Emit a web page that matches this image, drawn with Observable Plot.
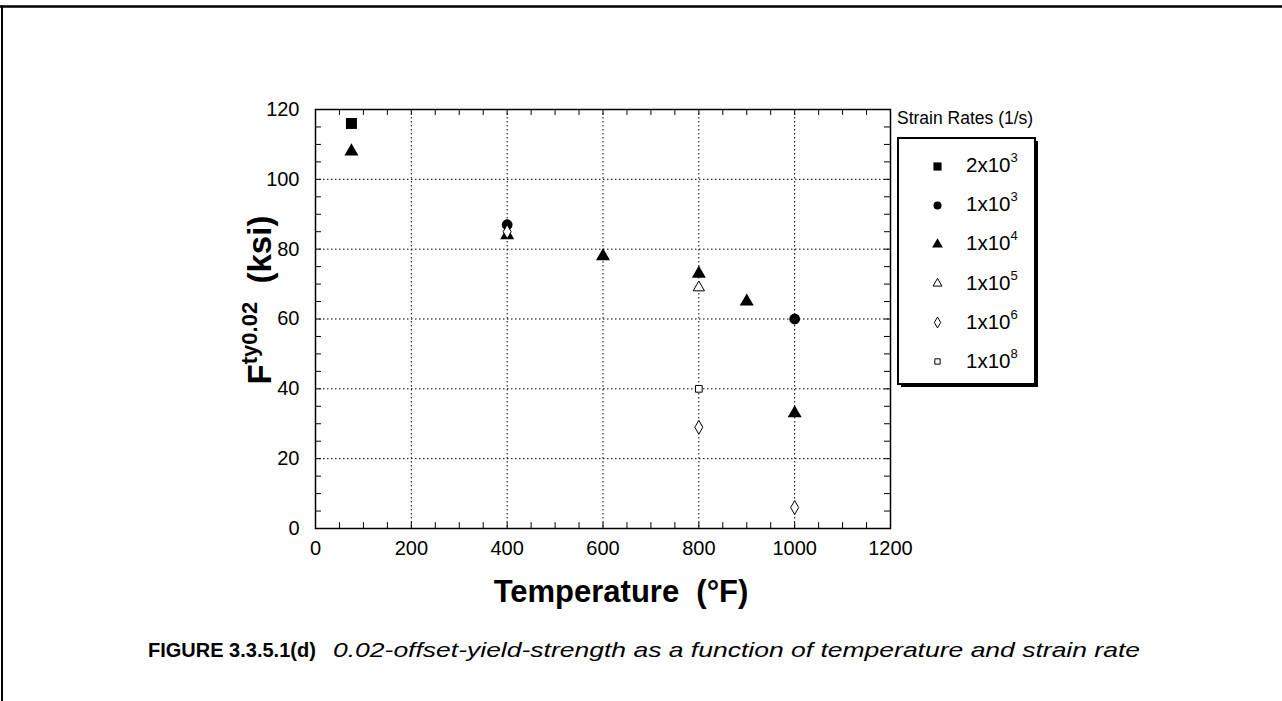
<!DOCTYPE html>
<html><head><meta charset="utf-8">
<script src="https://cdn.jsdelivr.net/npm/d3@7"></script>
<script src="https://cdn.jsdelivr.net/npm/@observablehq/plot@0.6"></script>
<style>
body{margin:0;background:#fff;}
#wrap{position:relative;width:1282px;height:701px;overflow:hidden;background:#fff;}
#wrap > *{position:absolute;}
</style></head><body><div id="wrap"></div>
<script>
const FONT = '"Liberation Sans", Arial, Helvetica, sans-serif';

// ---- data ----
const seriesNames = ["2x10^3", "1x10^3", "1x10^4", "1x10^5", "1x10^6", "1x10^8"];
const seriesBase  = ["2x10", "1x10", "1x10", "1x10", "1x10", "1x10"];
const seriesExp   = ["3", "3", "4", "5", "6", "8"];

const temp_2e3 = [75];                 const fty_2e3 = [116];
const temp_1e3 = [400, 1000];          const fty_1e3 = [87, 60];
const temp_1e4 = [75, 400, 600, 800, 900, 1000]; const fty_1e4 = [108, 84, 78, 73, 65, 33];
const temp_1e5 = [800];                const fty_1e5 = [69];
const temp_1e6 = [400, 800, 1000];     const fty_1e6 = [85, 29, 6];
const temp_1e8 = [800];                const fty_1e8 = [40];

const xTicks = [0, 200, 400, 600, 800, 1000, 1200];
const yTicks = [0, 20, 40, 60, 80, 100, 120];
const xMinor = d3.range(50, 1200, 50);
const yMinor = d3.range(5, 120, 5);

// ---- styles per series ----
const symbols = ["square", "circle", "triangle", "triangle", "diamond", "square"];
const fills   = ["black", "black", "black", "white", "white", "white"];
const strokes = ["none", "none", "none", "black", "black", "black"];
const radii   = [6.2, 5.4, 5.2, 4.2, 4.2, 3.8];
const legendR = [4.6, 4.0, 4.0, 3.3, 3.3, 3.0];

const seriesData = [
  [temp_2e3, fty_2e3], [temp_1e3, fty_1e3], [temp_1e4, fty_1e4],
  [temp_1e5, fty_1e5], [temp_1e6, fty_1e6], [temp_1e8, fty_1e8]
].map(([t, f], i) => t.map((x, j) => ({series: seriesNames[i], temp: x, fty: f[j]})));

const dotMarks = seriesData.map((rows, i) => Plot.dot(rows, {
  x: "temp", y: "fty", symbol: symbols[i], fill: fills[i], stroke: strokes[i],
  strokeWidth: 1, r: radii[i]
}));

const grid = {stroke: "black", strokeOpacity: 1, strokeWidth: 1, strokeDasharray: "1.5,2.5"};

const chart = Plot.plot({
  width: 1282, height: 701,
  marginLeft: 315, marginRight: 392, marginTop: 109, marginBottom: 173,
  x: {domain: [0, 1200]},
  y: {domain: [0, 120]},
  style: {fontFamily: FONT, fontSize: "20px", color: "black", background: "transparent", overflow: "visible"},
  marks: [
    Plot.gridX(xTicks.slice(1, -1), grid),
    Plot.gridY(yTicks.slice(1, -1), grid),
    Plot.ruleX(xMinor, {y1: 0, y2: 1.7, stroke: "black"}),
    Plot.ruleX(xMinor, {y1: 120, y2: 118.3, stroke: "black"}),
    Plot.ruleY(yMinor, {x1: 0, x2: 12.5, stroke: "black"}),
    Plot.ruleY(yMinor, {x1: 1200, x2: 1187.5, stroke: "black"}),
    Plot.frame({stroke: "black", strokeWidth: 1.5}),
    Plot.axisX(xTicks, {tickSize: 0, tickPadding: 12, fontSize: 20, label: null, tickFormat: d => String(d)}),
    Plot.axisY(yTicks, {tickSize: 0, tickPadding: 16, fontSize: 20, label: null, tickFormat: d => String(d)}),
    ...dotMarks
  ]
});
chart.style.left = "0px"; chart.style.top = "0px";
document.getElementById("wrap").appendChild(chart);

// ---- legend markers (Plot) ----
const legendRows = seriesNames.map((s, i) => ({series: s, i}));
const legendPlot = Plot.plot({
  width: 30, height: 236, margin: 0,
  x: {domain: [0, 1], axis: null},
  y: {type: "point", domain: seriesNames, padding: 0.5, axis: null},
  style: {background: "transparent", overflow: "visible"},
  marks: legendRows.map((d, i) => Plot.dot([d], {
    x: () => 0.5, y: "series", symbol: symbols[i], fill: fills[i], stroke: strokes[i], strokeWidth: 1, r: legendR[i]
  }))
});

// ---- overlay texts ----
const wrap = d3.select("#wrap");
const svg = wrap.append("svg").attr("width", 1282).attr("height", 701)
  .style("left", "0px").style("top", "0px").attr("font-family", FONT);

// page border
svg.append("line").attr("x1", 0).attr("x2", 1282).attr("y1", 6.5).attr("y2", 6.5).attr("stroke", "black").attr("stroke-width", 2.5);
svg.append("line").attr("x1", 2).attr("x2", 2).attr("y1", 5).attr("y2", 701).attr("stroke", "black").attr("stroke-width", 2);

// x title
svg.append("text").attr("x", 621).attr("y", 602).attr("text-anchor", "middle")
  .attr("font-size", 31).attr("font-weight", "bold").attr("xml:space", "preserve")
  .text("Temperature  (°F)");

// y title
const yt = svg.append("text").attr("transform", "translate(271,300) rotate(-90)")
  .attr("text-anchor", "middle").attr("font-weight", "bold").attr("xml:space", "preserve");
yt.append("tspan").attr("font-size", 33).text("F");
yt.append("tspan").attr("font-size", 22).attr("dy", -14).text("ty0.02");
yt.append("tspan").attr("font-size", 33).attr("dy", 14).text("  (ksi)");

// legend
svg.append("text").attr("x", 897).attr("y", 124).attr("font-size", 17.5).text("Strain Rates (1/s)");
svg.append("rect").attr("x", 901).attr("y", 141).attr("width", 137).attr("height", 246).attr("fill", "black");
svg.append("rect").attr("x", 898).attr("y", 138).attr("width", 137).attr("height", 246)
  .attr("fill", "white").attr("stroke", "black").attr("stroke-width", 2);
const rowY = i => 164.3 + i * 39.33;
seriesNames.forEach((s, i) => {
  const t = svg.append("text").attr("x", 966).attr("y", rowY(i) + 7.5).attr("font-size", 20.5);
  t.append("tspan").text(seriesBase[i]);
  t.append("tspan").attr("font-size", 13).attr("dy", -10).text(seriesExp[i]);
});

// caption
svg.append("text").attr("x", 148).attr("y", 657).attr("font-size", 20).attr("font-weight", "bold").text("FIGURE 3.3.5.1(d)");
svg.append("text").attr("x", 333).attr("y", 657).attr("font-size", 21).attr("font-style", "italic")
  .attr("textLength", 807).attr("lengthAdjust", "spacingAndGlyphs")
  .text("0.02-offset-yield-strength as a function of temperature and strain rate");

legendPlot.style.left = "922px"; legendPlot.style.top = "145px";
document.getElementById("wrap").appendChild(legendPlot);
</script></body></html>
